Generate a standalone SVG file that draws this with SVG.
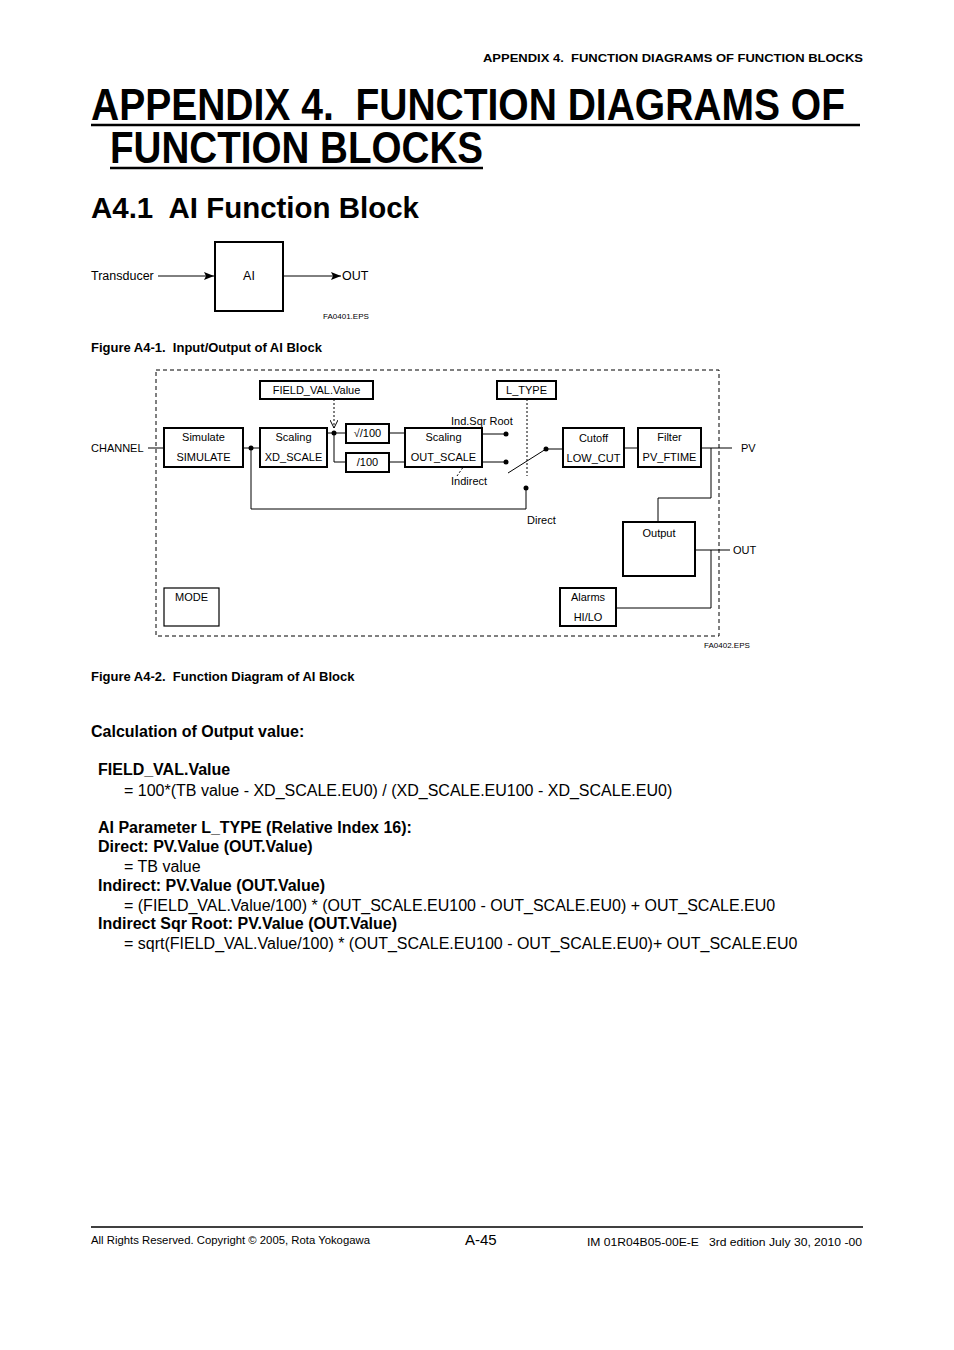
<svg xmlns="http://www.w3.org/2000/svg" width="954" height="1350" viewBox="0 0 954 1350">
<defs>
<marker id="arr" viewBox="0 0 10 8" refX="10" refY="4" markerWidth="10" markerHeight="8" markerUnits="userSpaceOnUse" orient="auto"><path d="M0,0 L10,4 L0,8 L2,4 Z" fill="#000"/></marker>
<marker id="oarr" viewBox="0 0 8 8" refX="8" refY="4" markerWidth="8" markerHeight="8" markerUnits="userSpaceOnUse" orient="auto"><path d="M0,0 L8,4 L0,8" fill="none" stroke="#000" stroke-width="1"/></marker>
</defs>
<style>
text{font-family:"Liberation Sans",Arial,sans-serif;fill:#000;white-space:pre}
.b{font-weight:bold}
.lab{font-size:11px}
.lab2{font-size:12.5px}
.mid{text-anchor:middle}
.tiny{font-size:8px}
.cap{font-size:13px;font-weight:bold}
.body{font-size:16px}
.box{fill:#fff;stroke:#000;stroke-width:2}
.thin{fill:#fff;stroke:#000;stroke-width:1.2}
.ln{fill:none;stroke:#000;stroke-width:1}
.dot{fill:#000}
.dotted{fill:none;stroke:#000;stroke-width:1;stroke-dasharray:2,2}
</style>
<rect width="954" height="1350" fill="#fff"/>

<text class="b" x="863" y="62" font-size="11.5" text-anchor="end" textLength="380" lengthAdjust="spacingAndGlyphs">APPENDIX 4.  FUNCTION DIAGRAMS OF FUNCTION BLOCKS</text>
<text class="b" x="91" y="120" font-size="44" textLength="754" lengthAdjust="spacingAndGlyphs">APPENDIX 4.  FUNCTION DIAGRAMS OF</text>
<line x1="91" y1="125" x2="860" y2="125" stroke="#000" stroke-width="2.5"/>
<text class="b" x="110" y="163" font-size="44" textLength="373" lengthAdjust="spacingAndGlyphs">FUNCTION BLOCKS</text>
<line x1="110" y1="168" x2="483" y2="168" stroke="#000" stroke-width="2.5"/>
<text class="b" x="91" y="218" font-size="30" textLength="328" lengthAdjust="spacingAndGlyphs">A4.1  AI Function Block</text>

<g id="fig1">
<g id="ai"><rect class="box" x="215" y="242" width="68" height="69"/><text class="lab2 mid" x="249" y="280">AI</text></g>
<g id="fig1-connectors">
<line class="ln" x1="158" y1="276" x2="214" y2="276" marker-end="url(#arr)"/>
<line class="ln" x1="284" y1="276" x2="341" y2="276" marker-end="url(#arr)"/>
</g>
<text class="lab2" x="91" y="280">Transducer</text>
<text class="lab2" x="342" y="280">OUT</text>
<text class="tiny" x="323" y="319">FA0401.EPS</text>
</g>
<text class="cap" x="91" y="352">Figure A4-1.  Input/Output of AI Block</text>

<g id="fig2">
<rect x="156" y="370" width="563" height="266" fill="none" stroke="#000" stroke-width="1" stroke-dasharray="4,3"/>
<g id="connectors">
<line class="ln" x1="148" y1="448" x2="164" y2="448"/>
<polyline class="ln" points="243,448 260,448"/>
<polyline class="ln" points="251,448 251,509 526,509 526,488"/>
<polyline class="ln" points="327,433 346,433"/>
<polyline class="ln" points="334,433 334,462 346,462"/>
<line class="ln" x1="389" y1="433" x2="405" y2="433"/>
<line class="ln" x1="389" y1="462" x2="405" y2="462"/>
<line class="ln" x1="482" y1="434" x2="506" y2="434"/>
<line class="ln" x1="482" y1="462" x2="506" y2="462"/>
<line class="ln" x1="508" y1="473" x2="546" y2="449"/>
<line class="ln" x1="546" y1="449" x2="563" y2="449"/>
<line class="ln" x1="624" y1="448" x2="638" y2="448"/>
<line class="ln" x1="701" y1="448" x2="732" y2="448"/>
<polyline class="ln" points="711,448 711,498 658,498 658,522"/>
<line class="ln" x1="695" y1="550" x2="730" y2="550"/>
<polyline class="ln" points="711,550 711,608 616,608"/>
<line class="dotted" x1="334" y1="399" x2="334" y2="428" marker-end="url(#oarr)"/>
<line class="dotted" x1="527" y1="399" x2="527" y2="476"/>
<line class="dotted" x1="457" y1="476" x2="466" y2="463"/>
<circle class="dot" cx="251" cy="448" r="2.5"/>
<circle class="dot" cx="334" cy="433" r="2.5"/>
<circle class="dot" cx="506" cy="434" r="2.5"/>
<circle class="dot" cx="506" cy="462" r="2.5"/>
<circle class="dot" cx="546" cy="449" r="2.5"/>
<circle class="dot" cx="526" cy="488" r="2.5"/>
</g>
<g id="simulate"><rect class="box" x="164" y="428" width="79" height="39"/><text class="lab mid" x="203.5" y="441">Simulate</text><text class="lab mid" x="203.5" y="461">SIMULATE</text></g>
<g id="xdscale"><rect class="box" x="260" y="428" width="67" height="39"/><text class="lab mid" x="293.5" y="441">Scaling</text><text class="lab mid" x="293.5" y="461">XD_SCALE</text></g>
<g id="fieldval"><rect class="box" x="260" y="381" width="113" height="18"/><text class="lab mid" x="316.5" y="394">FIELD_VAL.Value</text></g>
<g id="sqrt100"><rect class="box" x="346" y="424" width="43" height="19"/><text class="lab mid" x="367.5" y="437">√/100</text></g>
<g id="div100"><rect class="box" x="346" y="453" width="43" height="19"/><text class="lab mid" x="367.5" y="466">/100</text></g>
<g id="outscale"><rect class="box" x="405" y="428" width="77" height="39"/><text class="lab mid" x="443.5" y="441">Scaling</text><text class="lab mid" x="443.5" y="461">OUT_SCALE</text></g>
<g id="ltype"><rect class="box" x="497" y="381" width="59" height="18"/><text class="lab mid" x="526.5" y="394">L_TYPE</text></g>
<g id="cutoff"><rect class="box" x="563" y="428" width="61" height="39"/><text class="lab mid" x="593.5" y="442">Cutoff</text><text class="lab mid" x="593.5" y="462">LOW_CUT</text></g>
<g id="filter"><rect class="box" x="638" y="428" width="63" height="39"/><text class="lab mid" x="669.5" y="441">Filter</text><text class="lab mid" x="669.5" y="461">PV_FTIME</text></g>
<g id="output"><rect class="box" x="623" y="522" width="72" height="54"/><text class="lab mid" x="659" y="537">Output</text></g>
<g id="alarms"><rect class="box" x="560" y="588" width="56" height="38"/><text class="lab mid" x="588" y="601">Alarms</text><text class="lab mid" x="588" y="621">HI/LO</text></g>
<g id="mode"><rect class="thin" x="164" y="588" width="55" height="38"/><text class="lab mid" x="191.5" y="601">MODE</text></g>
<text class="lab" x="91" y="452">CHANNEL</text>
<text class="lab" x="741" y="452">PV</text>
<text class="lab" x="733" y="554">OUT</text>
<text class="lab" x="451" y="425">Ind.Sqr Root</text>
<text class="lab" x="451" y="485">Indirect</text>
<text class="lab" x="527" y="524">Direct</text>
<text class="tiny" x="704" y="648">FA0402.EPS</text>
</g>
<text class="cap" x="91" y="681">Figure A4-2.  Function Diagram of AI Block</text>

<text class="b body" x="91" y="737">Calculation of Output value:</text>
<text class="b body" x="98" y="775">FIELD_VAL.Value</text>
<text class="body" x="124" y="796">= 100*(TB value - XD_SCALE.EU0) / (XD_SCALE.EU100 - XD_SCALE.EU0)</text>
<text class="b body" x="98" y="833">AI Parameter L_TYPE (Relative Index 16):</text>
<text class="b body" x="98" y="852">Direct: PV.Value (OUT.Value)</text>
<text class="body" x="124" y="872">= TB value</text>
<text class="b body" x="98" y="891">Indirect: PV.Value (OUT.Value)</text>
<text class="body" x="124" y="911">= (FIELD_VAL.Value/100) * (OUT_SCALE.EU100 - OUT_SCALE.EU0) + OUT_SCALE.EU0</text>
<text class="b body" x="98" y="929">Indirect Sqr Root: PV.Value (OUT.Value)</text>
<text class="body" x="124" y="949">= sqrt(FIELD_VAL.Value/100) * (OUT_SCALE.EU100 - OUT_SCALE.EU0)+ OUT_SCALE.EU0</text>

<line x1="91" y1="1227" x2="863" y2="1227" stroke="#000" stroke-width="1.5"/>
<text x="91" y="1244" font-size="10" textLength="279" lengthAdjust="spacingAndGlyphs">All Rights Reserved. Copyright © 2005, Rota Yokogawa</text>
<text x="465" y="1245" font-size="15">A-45</text>
<text x="587" y="1246" font-size="10" textLength="275" lengthAdjust="spacingAndGlyphs">IM 01R04B05-00E-E   3rd edition July 30, 2010 -00</text>
</svg>
